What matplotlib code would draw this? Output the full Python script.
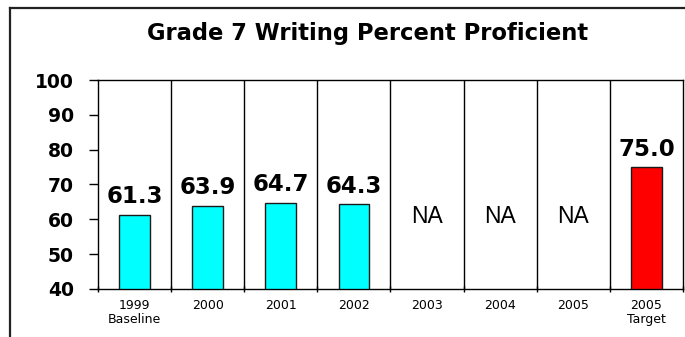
import matplotlib
matplotlib.use("Agg")
import matplotlib.pyplot as plt
from matplotlib.lines import Line2D

plt.rcParams['font.family'] = ['DejaVu Sans']

categories = ["1999\nBaseline", "2000", "2001", "2002", "2003", "2004", "2005", "2005\nTarget"]
values = [61.3, 63.9, 64.7, 64.3, None, None, None, 75.0]
colors = ["#00FFFF", "#00FFFF", "#00FFFF", "#00FFFF", None, None, None, "#FF0000"]
title = "Grade 7 Writing Percent Proficient"
yticks = [40, 50, 60, 70, 80, 90, 100]

W, H = 685, 337
fig = plt.figure(figsize=(W / 100, H / 100), dpi=100)
ax = fig.add_axes([98 / W, 1 - 289 / H, (683 - 98) / W, (289 - 80) / H])

n = len(categories)
for i, (v, c) in enumerate(zip(values, colors)):
    if v is not None:
        ax.bar(i, v - 40, bottom=40, width=0.42, color=c, edgecolor="#1a1a1a", linewidth=1.0, zorder=3)
        ax.text(i, v + 3.3, f"{v:.1f}", ha="center", va="baseline", fontsize=16.5,
                fontweight="bold", zorder=4)
    else:
        ax.text(i, 58.9, "NA", ha="center", va="baseline", fontsize=16.5,
                family="Liberation Sans", zorder=4)

for b in range(1, n):
    ax.axvline(b - 0.5, color="black", linewidth=1.0, zorder=2)

ax.set_xlim(-0.5, n - 0.5)
ax.set_ylim(40, 100)
ax.set_yticks(yticks)
ax.set_yticklabels([str(t) for t in yticks], fontsize=13.5, fontweight="bold")
ax.set_xticks([i - 0.5 for i in range(n + 1)], minor=False)
ax.set_xticklabels([""] * (n + 1))
ax.set_xticks(range(n), minor=True)
ax.set_xticklabels(categories, minor=True, fontsize=9, linespacing=1.1)
ax.tick_params(axis="x", which="minor", length=0, pad=7.5)
ax.tick_params(axis="x", which="major", length=5, width=1, direction="inout")
ax.tick_params(axis="y", length=6.5, width=1, direction="out", pad=11, colors="black")
for s in ["top", "right", "left", "bottom"]:
    ax.spines[s].set_linewidth(1.0)
    ax.spines[s].set_color("black")

fig.text(368 / W, 1 - 40 / H, title, ha="center", va="baseline", fontsize=16.3, fontweight="bold")

# outer frame (left and top edges)
fig.add_artist(Line2D([10 / W, 10 / W], [0, 1 - 8 / H], transform=fig.transFigure, color="#222222", linewidth=1.6))
fig.add_artist(Line2D([10 / W, 1], [1 - 8 / H, 1 - 8 / H], transform=fig.transFigure, color="#222222", linewidth=1.6))

fig.savefig("out.png", dpi=100)
